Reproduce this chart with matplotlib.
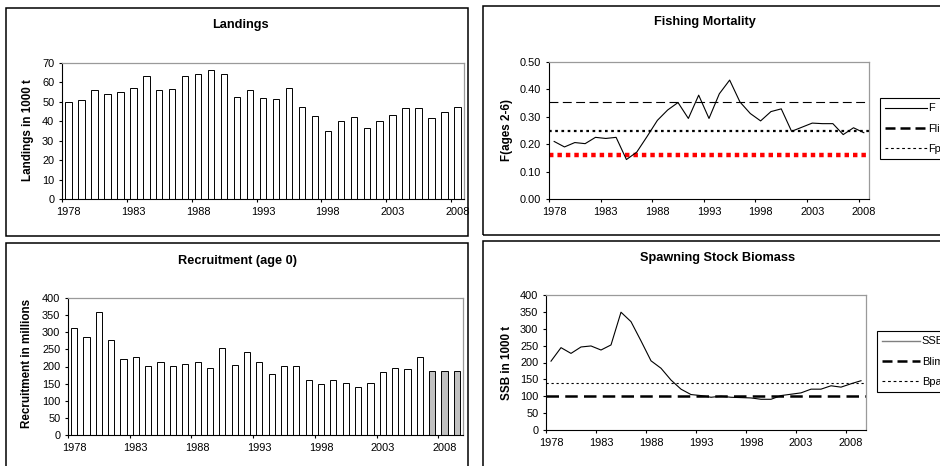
import matplotlib
matplotlib.use("Agg")
import matplotlib.pyplot as plt
from matplotlib.lines import Line2D
from matplotlib.patches import Rectangle
from matplotlib.ticker import FixedLocator, FormatStrFormatter

plt.rcParams['font.family'] = ['Liberation Sans', 'DejaVu Sans']

W, H = 940, 466

# data
land_years = list(range(1978, 2009))
landings = [49.7, 51.1, 56.2, 54.0, 55.0, 57.3, 63.3, 56.2, 56.8, 63.3, 64.5, 66.6, 64.5,
            52.5, 56.2, 51.9, 51.4, 57.3, 47.1, 42.7, 35.1, 39.9, 42.3, 36.8, 39.9, 43.2,
            46.6, 46.6, 41.6, 44.9, 47.6]

f_years = list(range(1978, 2009))
f_values = [0.210, 0.190, 0.206, 0.202, 0.225, 0.221, 0.225, 0.144, 0.171, 0.228, 0.287,
            0.325, 0.352, 0.294, 0.379, 0.294, 0.384, 0.434, 0.354, 0.312, 0.285, 0.319,
            0.329, 0.247, 0.262, 0.277, 0.275, 0.275, 0.235, 0.260, 0.242]
f_lim = 0.355
f_pa = 0.25
f_red = 0.16

rec_years = list(range(1978, 2010))
recruitment = [313, 285, 360, 276, 223, 229, 201, 213, 201, 207, 213, 195, 254, 205, 242,
               213, 179, 201, 201, 162, 149, 162, 152, 140, 152, 183, 195, 192, 229, 186,
               186, 186]
rec_assumed = [2007, 2008, 2009]

ssb_years = list(range(1978, 2010))
ssb = [204, 244, 227, 246, 249, 237, 252, 349, 321, 264, 205, 183, 148, 121, 105, 102, 97,
       100, 97, 96, 95, 91, 91, 102, 106, 110, 121, 121, 131, 127, 137, 146]
b_lim = 100
b_pa = 140

label_years = [1978, 1983, 1988, 1993, 1998, 2003, 2008]

TICK_FS = 7.9
TITLE_FS = 9.2
YLAB_FS = 8.4
LEG_FS = 7.9


def px_axes(fig, x0, y0, x1, y1):
    return fig.add_axes([x0 / W, 1 - y1 / H, (x1 - x0) / W, (y1 - y0) / H])


def style_axes(ax, years, yticks, fmt):
    n = len(years)
    ax.set_xlim(-0.5, n - 0.5)
    ax.set_ylim(yticks[0], yticks[-1])
    idx = [years.index(y) for y in label_years]
    ax.set_xticks(idx)
    ax.set_xticklabels([str(y) for y in label_years])
    ax.xaxis.set_minor_locator(FixedLocator([i - 0.5 for i in idx]))
    ax.tick_params(axis='x', which='major', length=0, pad=5.5, labelsize=TICK_FS)
    ax.tick_params(axis='x', which='minor', length=2.5, width=0.8, direction='out')
    ax.set_yticks(yticks)
    ax.yaxis.set_major_formatter(FormatStrFormatter(fmt))
    ax.tick_params(axis='y', length=2.5, width=0.8, direction='out', pad=3, labelsize=TICK_FS)
    for s in ('top', 'right'):
        ax.spines[s].set_color('#9a9a9a')
        ax.spines[s].set_linewidth(0.9)
    for s in ('left', 'bottom'):
        ax.spines[s].set_color('black')
        ax.spines[s].set_linewidth(0.8)


def px_text(fig, x, y, s, **kw):
    fig.text(x / W, 1 - y / H, s, ha='center', va='center', **kw)


def add_legend(ax, handles, labels, x, y, hlen):
    leg = ax.legend(handles, labels, loc='upper left',
                    bbox_to_anchor=(x / W, 1 - y / H), bbox_transform=fig.transFigure,
                    fontsize=LEG_FS, frameon=True, fancybox=False, edgecolor='black',
                    framealpha=1, handlelength=hlen, handletextpad=0.12,
                    labelspacing=0.92, borderpad=0.5, borderaxespad=0)
    leg.get_frame().set_linewidth(0.8)


fig = plt.figure(figsize=(W / 100, H / 100), dpi=100)

# panel frames
for x0, y0, x1, y1 in [(6, 8, 468, 236), (483, 6, 960, 235), (6, 243, 468, 490), (483, 241, 960, 490)]:
    fig.add_artist(Rectangle((x0 / W, 1 - y1 / H), (x1 - x0) / W, (y1 - y0) / H,
                             transform=fig.transFigure, fill=False, edgecolor='black',
                             linewidth=1.1, clip_on=False))

# Landings
ax1 = px_axes(fig, 62, 63, 464, 199)
ax1.bar(range(len(land_years)), landings, width=0.5, color='white', edgecolor='black', linewidth=0.7)
style_axes(ax1, land_years, list(range(0, 71, 10)), '%d')
px_text(fig, 240, 25, 'Landings', fontsize=TITLE_FS, fontweight='bold')
px_text(fig, 28, 130, 'Landings in 1000 t', fontsize=YLAB_FS, fontweight='bold', rotation=90)

# Fishing mortality
ax2 = px_axes(fig, 549, 62, 869, 199)
ax2.axhline(f_lim, color='black', linewidth=0.8, dashes=(8, 4))
ax2.axhline(f_pa, color='black', linewidth=1.6, dashes=(1.2, 1.6))
ax2.axhline(f_red, color='#ff0000', linewidth=3.2, dashes=(1.0, 0.9))
ax2.plot(range(len(f_years)), f_values, color='black', linewidth=0.8)
style_axes(ax2, f_years, [0, 0.1, 0.2, 0.3, 0.4, 0.5], '%.2f')
px_text(fig, 705, 22, 'Fishing Mortality', fontsize=TITLE_FS, fontweight='bold')
px_text(fig, 507, 130, 'F(ages 2-6)', fontsize=YLAB_FS, fontweight='bold', rotation=90)
f_handles = [Line2D([], [], color='black', linewidth=0.8),
             Line2D([], [], color='black', linewidth=1.8, dashes=(4, 2)),
             Line2D([], [], color='black', linewidth=0.8, dashes=(2.5, 2.5))]
add_legend(ax2, f_handles, ['F', 'Flim', 'Fpa'], 880, 98, 3.75)

# Recruitment
ax3 = px_axes(fig, 68, 298, 463, 435)
colors = ['#c0c0c0' if y in rec_assumed else 'white' for y in rec_years]
ax3.bar(range(len(rec_years)), recruitment, width=0.5, color=colors, edgecolor='black', linewidth=0.7)
style_axes(ax3, rec_years, list(range(0, 401, 50)), '%d')
px_text(fig, 237, 261, 'Recruitment (age 0)', fontsize=TITLE_FS, fontweight='bold')
px_text(fig, 27, 363, 'Recruitment in millions', fontsize=YLAB_FS, fontweight='bold', rotation=90)

# SSB
ax4 = px_axes(fig, 546, 295, 866, 430)
ax4.axhline(b_pa, color='black', linewidth=0.8, dashes=(2, 2.5))
ax4.axhline(b_lim, color='black', linewidth=1.8, dashes=(5, 2.5))
ax4.plot(range(len(ssb_years)), ssb, color='black', linewidth=0.8)
style_axes(ax4, ssb_years, list(range(0, 401, 50)), '%d')
px_text(fig, 718, 258, 'Spawning Stock Biomass', fontsize=TITLE_FS, fontweight='bold')
px_text(fig, 507, 363, 'SSB in 1000 t', fontsize=YLAB_FS, fontweight='bold', rotation=90)
b_handles = [Line2D([], [], color='#808080', linewidth=1.0),
             Line2D([], [], color='black', linewidth=1.8, dashes=(4, 2)),
             Line2D([], [], color='black', linewidth=0.8, dashes=(2.5, 2.5))]
add_legend(ax4, b_handles, ['SSB', 'Blim', 'Bpa'], 877, 331, 3.45)

fig.savefig('out.png', dpi=100)
